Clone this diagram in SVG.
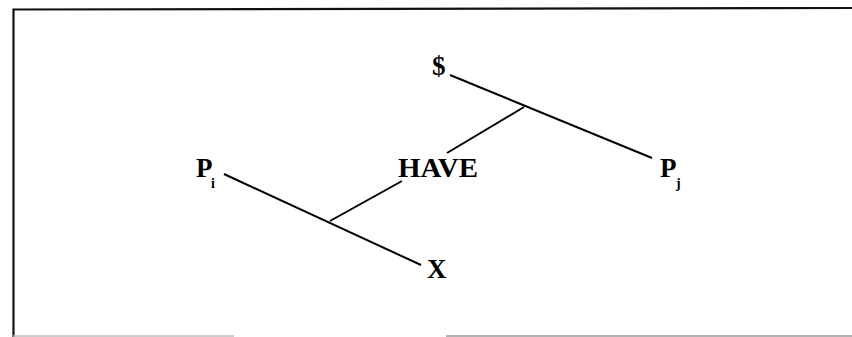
<svg xmlns="http://www.w3.org/2000/svg" width="852" height="337" viewBox="0 0 852 337">
<style>
.lbl{font-family:"Liberation Serif","Times New Roman",serif;font-weight:bold;font-size:27px;fill:#000}
.sub{font-family:"Liberation Serif","Times New Roman",serif;font-weight:bold;font-size:14px;fill:#000}
.edge{stroke:#000;stroke-width:2;fill:none;stroke-linecap:butt}
.frame{stroke:#111;stroke-width:2.2;fill:none}
</style>
<rect width="852" height="337" fill="#fff"/>
<g id="frame">
<path class="frame" d="M13.5,337 L13.5,9.5 L852,8"/>
<line x1="13" y1="336" x2="234" y2="336" stroke="#bbb" stroke-width="1.5"/>
<line x1="446" y1="336" x2="852" y2="336" stroke="#999" stroke-width="1.5"/>
</g>
<g id="connectors">
<line class="edge" x1="450" y1="75" x2="652" y2="158"/>
<line class="edge" x1="524" y1="107" x2="447" y2="153"/>
<line class="edge" x1="224" y1="174" x2="421" y2="265"/>
<line class="edge" x1="330" y1="221" x2="402" y2="181"/>
</g>
<g id="dollar"><text class="lbl" x="432" y="75">$</text></g>
<g id="have"><text class="lbl" x="398" y="177" textLength="80" lengthAdjust="spacingAndGlyphs">HAVE</text></g>
<g id="pi"><text class="lbl" x="196" y="177">P</text><text class="sub" x="211" y="188">i</text></g>
<g id="pj"><text class="lbl" x="660" y="177">P</text><text class="sub" x="676" y="188">j</text></g>
<g id="x"><text class="lbl" x="427" y="278">X</text></g>
</svg>
